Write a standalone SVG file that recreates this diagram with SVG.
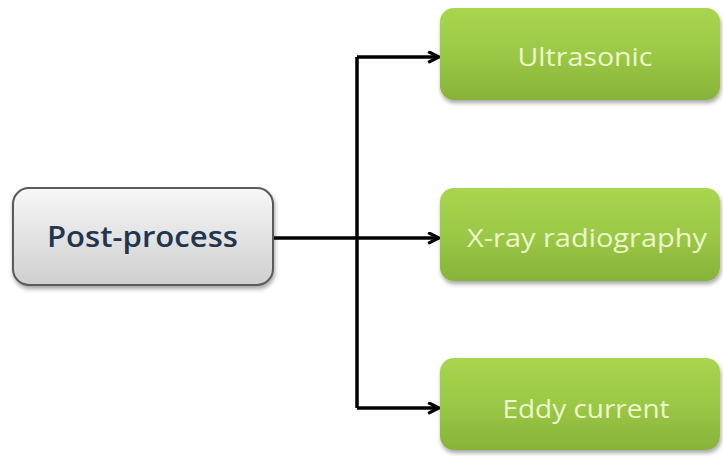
<svg xmlns="http://www.w3.org/2000/svg" width="723" height="456" viewBox="0 0 723 456">
<defs>
<linearGradient id="gGray" x1="0" y1="0" x2="0" y2="1">
<stop offset="0" stop-color="#f7f7f7"/>
<stop offset="1" stop-color="#cfcfcf"/>
</linearGradient>
<linearGradient id="gGreen" x1="0" y1="0" x2="0" y2="1">
<stop offset="0" stop-color="#a9d54f"/>
<stop offset="0.5" stop-color="#9bc845"/>
<stop offset="1" stop-color="#87b33a"/>
</linearGradient>
<filter id="sh" x="-10%" y="-10%" width="120%" height="130%">
<feDropShadow dx="1" dy="3" stdDeviation="2" flood-color="#000" flood-opacity="0.35"/>
</filter>
<marker id="arr" viewBox="0 0 12 12" refX="11" refY="6" markerWidth="13" markerHeight="13" markerUnits="userSpaceOnUse" orient="auto">
<path d="M1,1 L11,6 L1,11" fill="none" stroke="#000" stroke-width="3"/>
</marker>
<style>
.conn{fill:none;stroke:#000;stroke-width:3.5}
.green{fill:url(#gGreen);filter:url(#sh)}
.gt{font-family:"Open Sans","Liberation Sans",sans-serif;font-size:26px;fill:#eef7cc;text-anchor:middle}
.pt{font-family:"Open Sans","Liberation Sans",sans-serif;font-size:29px;font-weight:600;fill:#1f3550;text-anchor:middle}
</style>
</defs>
<rect width="723" height="456" fill="#fff"/>
<g id="connectors">
<path class="conn" d="M273,238 H357"/>
<path class="conn" d="M357,57 V408"/>
<path class="conn" d="M357,57 H439" marker-end="url(#arr)"/>
<path class="conn" d="M357,238 H439" marker-end="url(#arr)"/>
<path class="conn" d="M357,408 H439" marker-end="url(#arr)"/>
</g>
<g id="post-process">
<rect x="13" y="188" width="260" height="97" rx="16" fill="url(#gGray)" stroke="#5a5a5a" stroke-width="2" filter="url(#sh)"/>
<text class="pt" x="142.5" y="247" textLength="191" lengthAdjust="spacingAndGlyphs">Post-process</text>
</g>
<g id="ultrasonic">
<rect class="green" x="440" y="8" width="280" height="92" rx="14"/>
<text class="gt" x="585" y="66" textLength="135" lengthAdjust="spacingAndGlyphs">Ultrasonic</text>
</g>
<g id="xray">
<rect class="green" x="440" y="188" width="280" height="93" rx="14"/>
<text class="gt" x="587" y="247" textLength="240" lengthAdjust="spacingAndGlyphs">X-ray radiography</text>
</g>
<g id="eddy">
<rect class="green" x="440" y="358" width="280" height="92" rx="14"/>
<text class="gt" x="586" y="418" textLength="167" lengthAdjust="spacingAndGlyphs">Eddy current</text>
</g>
</svg>
